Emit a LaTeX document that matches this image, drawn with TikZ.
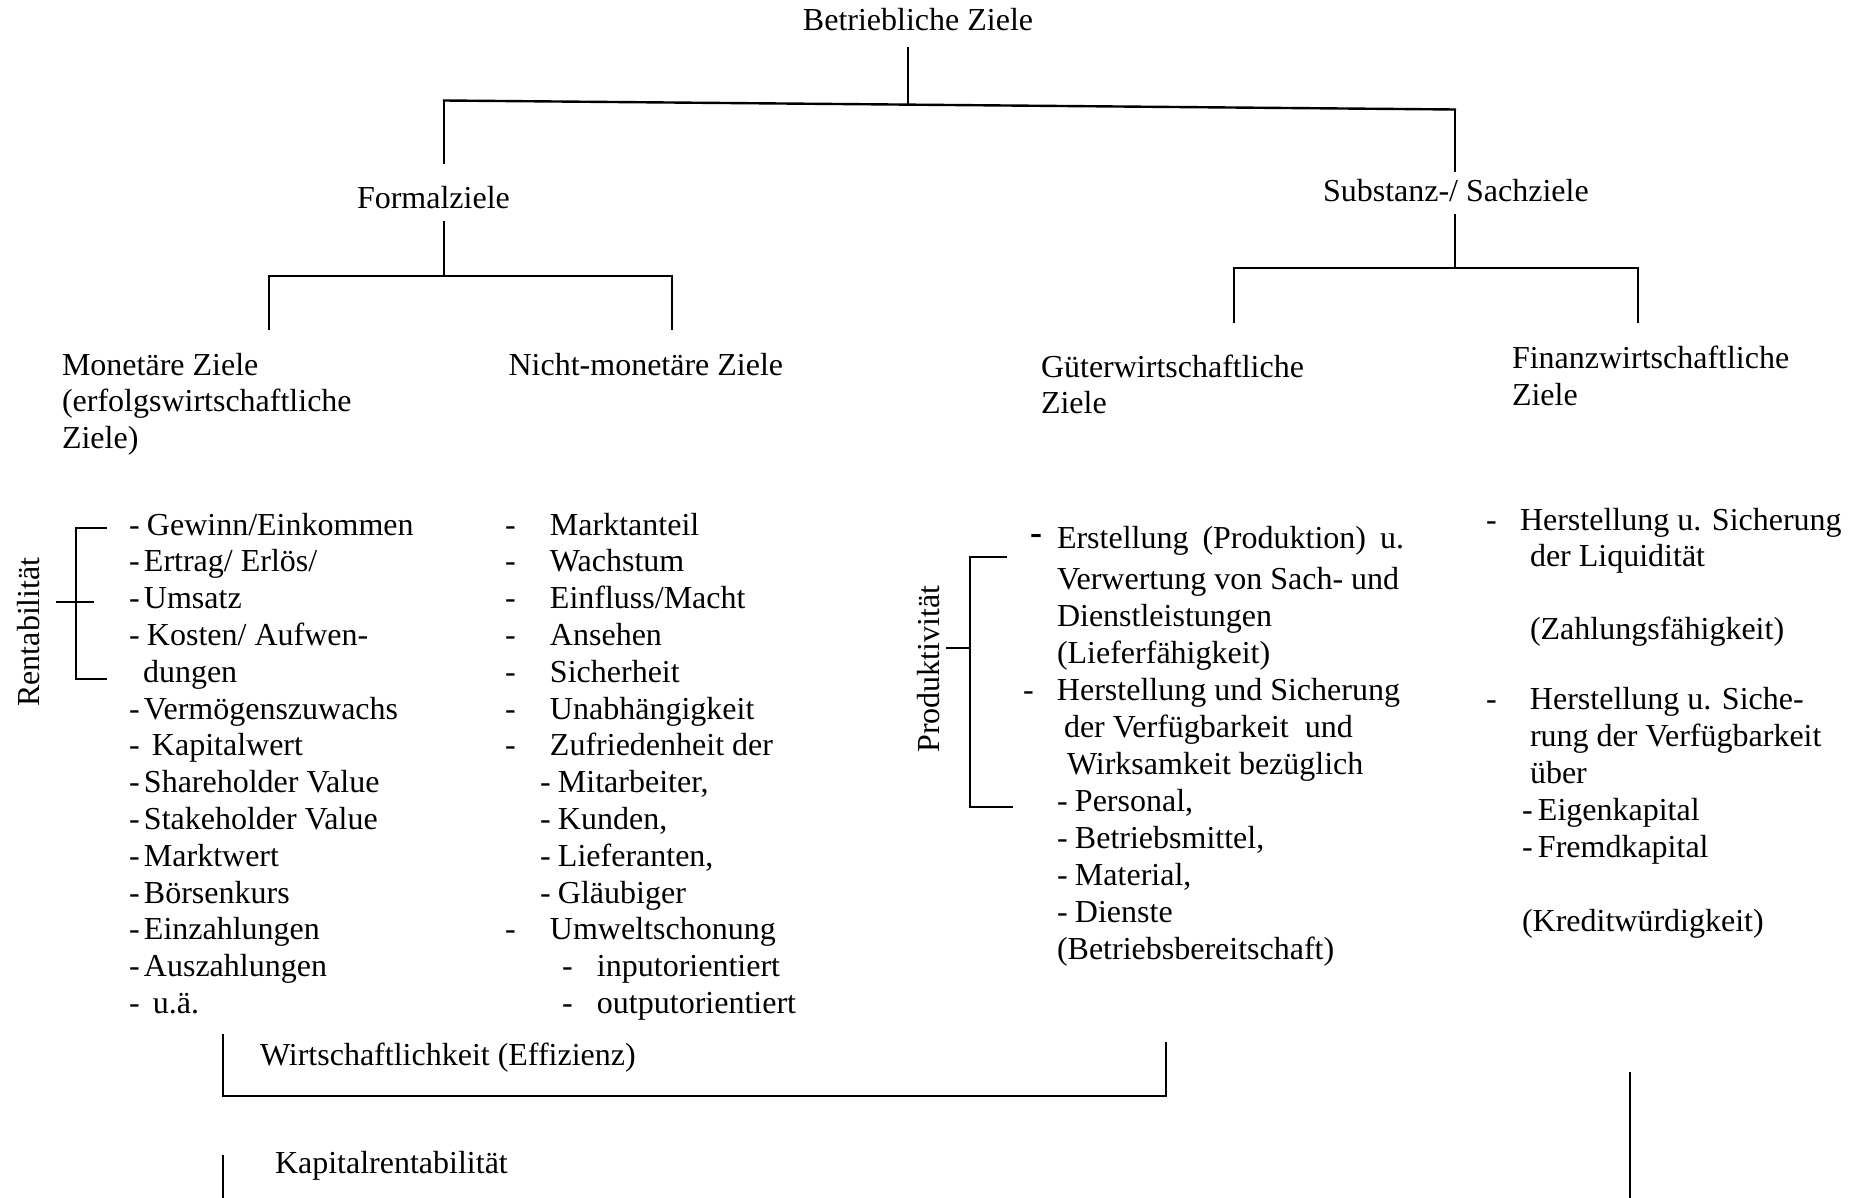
\documentclass[tikz,border=0pt]{standalone}
\usepackage{fontspec}
\setmainfont{Liberation Serif}
% hyphen followed by a fixed-width gap
\newcommand{\dsh}[2]{\makebox[#1pt][l]{-}#2}
\begin{document}
\begin{tikzpicture}[x=1pt,y=-1pt,
  every node/.style={inner sep=0pt, outer sep=0pt, font=\fontsize{32}{36.8}\selectfont},
  txt/.style={anchor=base west},
  side/.style={anchor=base, rotate=90},
  thinline/.style={line width=1.5pt, line cap=rect},
  barline/.style={line width=2.4pt, line cap=rect},
  bracketline/.style={line width=1.9pt},
]
\fill[white] (0,0) rectangle (1852,1198);
\useasboundingbox (0,0) rectangle (1852,1198);

% ---------- headings ----------
\node[anchor=base] (ziele) at (918,31) {Betriebliche Ziele};
\node[txt] (formal) at (357,209) {Formalziele};
\node[txt] (substanz) at (1323,202) {Substanz-/ Sachziele};

\node[txt] (mon1) at (62,375) {Monetäre Ziele};
\node[txt] (mon2) at (62,411.8) {(erfolgswirtschaftliche};
\node[txt] (mon3) at (62,448.6) {Ziele)};
\node[txt] (nmon) at (508.6,375) {Nicht-monetäre Ziele};
\node[txt] (gue1) at (1041,377) {Güterwirtschaftliche};
\node[txt] (gue2) at (1041,413) {Ziele};
\node[txt] (fin1) at (1512,368) {Finanzwirtschaftliche};
\node[txt] (fin2) at (1512,405) {Ziele};

% ---------- tree connectors ----------
\coordinate (t0) at (908,48);
\coordinate (tM) at (908,104.6);
\coordinate (tL) at (444,100.5);
\coordinate (tR) at (1455,109.5);
\coordinate (fTop) at (444,163);
\coordinate (sTop) at (1455,171);
\draw[thinline] (t0) -- (tM);
\draw[thinline] (fTop) -- (tL);
\draw[thinline] (sTop) -- (tR);
\draw[barline] (tL) -- (tR);

\coordinate (fA) at (444,222);
\coordinate (fB) at (444,276);
\coordinate (fBL) at (269,276);
\coordinate (fBR) at (672,276);
\coordinate (monTop) at (269,329);
\coordinate (nmonTop) at (672,329);
\draw[thinline] (fA) -- (fB);
\draw[thinline] (monTop) -- (fBL);
\draw[thinline] (nmonTop) -- (fBR);
\draw[barline] (fBL) -- (fBR);

\coordinate (sA) at (1455,215);
\coordinate (sB) at (1455,268);
\coordinate (sBL) at (1234,268);
\coordinate (sBR) at (1638,268);
\coordinate (gueTop) at (1234,322);
\coordinate (finTop) at (1638,322);
\draw[thinline] (sA) -- (sB);
\draw[thinline] (gueTop) -- (sBL);
\draw[thinline] (finTop) -- (sBR);
\draw[barline] (sBL) -- (sBR);

% ---------- monetary goals ----------
\node[txt] (m0) at (129,535) {\dsh{18}{Gewinn/Einkommen}};
\node[txt] (m1) at (129,571.8) {\dsh{15}{Ertrag/ Erlös/}};
\node[txt] (m2) at (129,608.6) {\dsh{15}{Umsatz}};
\node[txt] (m3) at (129,645.4) {\dsh{18}{Kosten/ Aufwen-}};
\node[txt] (m4) at (143,682.2) {dungen};
\node[txt] (m5) at (129,719) {\dsh{15}{Vermögenszuwachs}};
\node[txt] (m6) at (129,755.8) {\dsh{23}{Kapitalwert}};
\node[txt] (m7) at (129,792.6) {\dsh{15}{Shareholder Value}};
\node[txt] (m8) at (129,829.4) {\dsh{15}{Stakeholder Value}};
\node[txt] (m9) at (129,866.2) {\dsh{15}{Marktwert}};
\node[txt] (m10) at (129,903) {\dsh{15}{Börsenkurs}};
\node[txt] (m11) at (129,939.8) {\dsh{15}{Einzahlungen}};
\node[txt] (m12) at (129,976.6) {\dsh{15}{Auszahlungen}};
\node[txt] (m13) at (129,1013.4) {\dsh{24}{u.ä.}};

\node[side] (rent) at (39,632) {Rentabilität};
\coordinate (rTopEnd) at (106.7,528);
\coordinate (rTop) at (75.7,528);
\coordinate (rBot) at (75.7,679);
\coordinate (rBotEnd) at (106.7,679);
\coordinate (rTickL) at (56,602);
\coordinate (rTickR) at (94,602);
\draw[bracketline] (rTopEnd) -- (rTop) -- (rBot) -- (rBotEnd);
\draw[bracketline] (rTickL) -- (rTickR);

% ---------- non-monetary goals ----------
\node[txt] (n0) at (505,535) {\dsh{45}{Marktanteil}};
\node[txt] (n1) at (505,571.8) {\dsh{45}{Wachstum}};
\node[txt] (n2) at (505,608.6) {\dsh{45}{Einfluss/Macht}};
\node[txt] (n3) at (505,645.4) {\dsh{45}{Ansehen}};
\node[txt] (n4) at (505,682.2) {\dsh{45}{Sicherheit}};
\node[txt] (n5) at (505,719) {\dsh{45}{Unabhängigkeit}};
\node[txt] (n6) at (505,755.8) {\dsh{45}{Zufriedenheit der}};
\node[txt] (n7) at (540,792.6) {\dsh{18}{Mitarbeiter,}};
\node[txt] (n8) at (540,829.4) {\dsh{18}{Kunden,}};
\node[txt] (n9) at (540,866.2) {\dsh{18}{Lieferanten,}};
\node[txt] (n10) at (540,903) {\dsh{18}{Gläubiger}};
\node[txt] (n11) at (505,939.8) {\dsh{45}{Umweltschonung}};
\node[txt] (n12) at (562,976.6) {\dsh{35}{inputorientiert}};
\node[txt] (n13) at (562,1013.4) {\dsh{35}{outputorientiert}};

% ---------- goods-related goals ----------
\node[txt, font=\fontsize{36}{36}\selectfont\bfseries] (g0d) at (1030,544) {-};
\node[txt] (g0) at (1057,548) {\makebox[347pt][s]{Erstellung (Produktion) u.}};
\node[txt] (g1) at (1057,589) {Verwertung von Sach- und};
\node[txt] (g2) at (1057,626) {Dienstleistungen};
\node[txt] (g3) at (1057,663) {(Lieferfähigkeit)};
\node[txt] (g4) at (1023,700) {\dsh{34}{Herstellung und Sicherung}};
\node[txt] (g5) at (1064,737) {der Verfügbarkeit\ \ und};
\node[txt] (g6) at (1067,774) {Wirksamkeit bezüglich};
\node[txt] (g7) at (1057,811) {\dsh{18}{Personal,}};
\node[txt] (g8) at (1057,848) {\dsh{18}{Betriebsmittel,}};
\node[txt] (g9) at (1057,885) {\dsh{18}{Material,}};
\node[txt] (g10) at (1057,922) {\dsh{18}{Dienste}};
\node[txt] (g11) at (1057,959) {(Betriebsbereitschaft)};

\node[side] (prod) at (939,669) {Produktivität};
\coordinate (pTopEnd) at (1007,557);
\coordinate (pTop) at (970,557);
\coordinate (pBot) at (970,807);
\coordinate (pBotEnd) at (1013,807);
\coordinate (pTickL) at (946,648);
\coordinate (pTickR) at (970,648);
\draw[bracketline] (pTopEnd) -- (pTop) -- (pBot) -- (pBotEnd);
\draw[bracketline] (pTickL) -- (pTickR);

% ---------- financial goals ----------
\node[txt] (f0) at (1486,530) {\dsh{34}{Herstellung u. Sicherung}};
\node[txt] (f1) at (1530,566) {der Liquidität};
\node[txt] (f2) at (1530,639) {(Zahlungsfähigkeit)};
\node[txt] (f3) at (1486,709) {\dsh{44}{Herstellung u. Siche-}};
\node[txt] (f4) at (1530,746) {rung der Verfügbarkeit};
\node[txt] (f5) at (1530,783) {über};
\node[txt] (f6) at (1522,820) {\dsh{16}{Eigenkapital}};
\node[txt] (f7) at (1522,857) {\dsh{16}{Fremdkapital}};
\node[txt] (f8) at (1522,931) {(Kreditwürdigkeit)};

% ---------- efficiency brackets ----------
\node[txt] (wirt) at (260,1065) {Wirtschaftlichkeit (Effizienz)};
\node[txt] (kap) at (275,1173) {Kapitalrentabilität};
\coordinate (wL) at (223,1034);
\coordinate (wLB) at (223,1096);
\coordinate (wRB) at (1166,1096);
\coordinate (wR) at (1166,1042);
\draw[bracketline] (wL) -- (wLB) -- (wRB) -- (wR);
\coordinate (kTop) at (223,1155);
\coordinate (kBot) at (223,1198);
\draw[bracketline] (kTop) -- (kBot);
\coordinate (lTop) at (1630,1072);
\coordinate (lBot) at (1630,1198);
\draw[bracketline] (lTop) -- (lBot);
\end{tikzpicture}
\end{document}
